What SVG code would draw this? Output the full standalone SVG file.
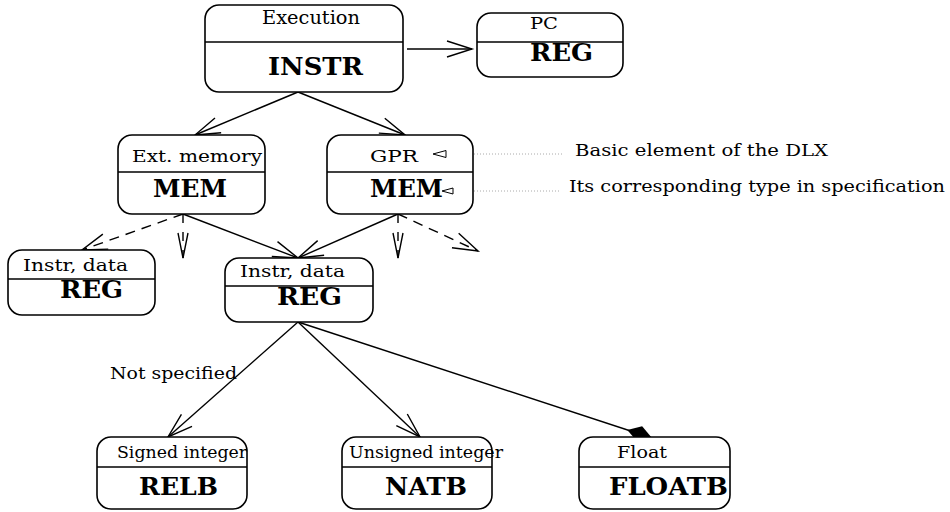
<svg xmlns="http://www.w3.org/2000/svg" width="950" height="512" viewBox="0 0 950 512" font-family="'DejaVu Serif', 'Liberation Serif', serif">
<defs>
<style>
.box{fill:#fff;stroke:#000;stroke-width:1.6}
.div{stroke:#000;stroke-width:1.3}
.t{font-family:'DejaVu Serif','Liberation Serif',serif;fill:#000;font-size:17px}
.s{font-size:16px}
.b{font-weight:bold;font-size:24px}
.edge{stroke:#000;stroke-width:1.4;fill:none}
.dash{stroke-dasharray:10 7}
.vdash{stroke-dasharray:9 9}
.dot{stroke:#aaa;stroke-width:1;stroke-dasharray:1 2;fill:none}
.tri{fill:#fff;stroke:#000;stroke-width:1}
</style>
<marker id="open" markerUnits="userSpaceOnUse" markerWidth="30" markerHeight="20" viewBox="0 0 30 20" refX="26" refY="10" orient="auto" overflow="visible"><path d="M1,2 L26,10 L1,18" fill="none" stroke="#000" stroke-width="1.4"/></marker>
<marker id="openN" markerUnits="userSpaceOnUse" markerWidth="30" markerHeight="20" viewBox="0 0 30 20" refX="26" refY="10" orient="auto" overflow="visible"><path d="M1,5 L26,10 L1,15" fill="none" stroke="#000" stroke-width="1.4"/></marker>
<marker id="diamond" markerUnits="userSpaceOnUse" markerWidth="30" markerHeight="20" viewBox="0 0 30 20" refX="28" refY="10" orient="auto" overflow="visible"><path d="M2,10 L15,2 L28,10 L15,18 Z" fill="#000"/></marker>
</defs>
<g id="connectors">
<line class="edge" x1="407" y1="49" x2="472" y2="49" marker-end="url(#open)"/>
<line class="edge" x1="298" y1="92" x2="195" y2="135" marker-end="url(#open)"/>
<line class="edge" x1="298" y1="92" x2="405" y2="135" marker-end="url(#open)"/>
<line class="edge dash" x1="183" y1="214" x2="82" y2="250" marker-end="url(#open)"/>
<line class="edge vdash" x1="183" y1="214" x2="183" y2="258" marker-end="url(#openN)"/>
<line class="edge" x1="183" y1="214" x2="298" y2="258" marker-end="url(#open)"/>
<line class="edge" x1="398" y1="214" x2="298" y2="258" marker-end="url(#open)"/>
<line class="edge vdash" x1="398" y1="214" x2="398" y2="258" marker-end="url(#openN)"/>
<line class="edge dash" x1="398" y1="214" x2="478" y2="251" marker-end="url(#open)"/>
<line class="edge" x1="298" y1="322" x2="168" y2="437" marker-end="url(#open)"/>
<line class="edge" x1="298" y1="322" x2="420" y2="437" marker-end="url(#open)"/>
<line class="edge" x1="298" y1="322" x2="652" y2="438" marker-end="url(#diamond)"/>
<line class="dot" x1="447" y1="154" x2="563" y2="154"/>
<line class="dot" x1="453" y1="191" x2="560" y2="191"/>
</g>
<g id="n-instr">
<rect class="box" x="205" y="5" width="198" height="87" rx="14"/>
<line class="div" x1="205" y1="42" x2="403" y2="42"/>
<text class="t" x="262" y="24" style="font-size:18px" textLength="98" lengthAdjust="spacingAndGlyphs">Execution</text>
<text class="t b" x="268" y="75" textLength="95" lengthAdjust="spacingAndGlyphs">INSTR</text>
</g>
<g id="n-pc">
<rect class="box" x="477" y="13" width="146" height="64" rx="14"/>
<line class="div" x1="477" y1="42" x2="623" y2="42"/>
<text class="t" x="530" y="29" textLength="28" lengthAdjust="spacingAndGlyphs">PC</text>
<text class="t b" x="530" y="61" textLength="63" lengthAdjust="spacingAndGlyphs">REG</text>
</g>
<g id="n-extmem">
<rect class="box" x="118" y="135" width="147" height="79" rx="14"/>
<line class="div" x1="118" y1="172" x2="265" y2="172"/>
<text class="t" x="132" y="162" textLength="130" lengthAdjust="spacingAndGlyphs">Ext. memory</text>
<text class="t b" x="153" y="197" textLength="74" lengthAdjust="spacingAndGlyphs">MEM</text>
</g>
<g id="n-gpr">
<rect class="box" x="327" y="135" width="146" height="79" rx="14"/>
<line class="div" x1="327" y1="172" x2="473" y2="172"/>
<text class="t" x="370" y="162" textLength="48" lengthAdjust="spacingAndGlyphs">GPR</text>
<text class="t b" x="370" y="197" textLength="73" lengthAdjust="spacingAndGlyphs">MEM</text>
<path class="tri" d="M433,154 L446,150.5 L446,157.5 Z"/>
<path class="tri" d="M442,191 L453,188 L453,194 Z"/>
</g>
<g id="legend">
<text class="t" x="575" y="156" textLength="253" lengthAdjust="spacingAndGlyphs">Basic element of the DLX</text>
<text class="t" x="569" y="192" textLength="376" lengthAdjust="spacingAndGlyphs">Its corresponding type in specification</text>
</g>
<g id="n-reg-left">
<rect class="box" x="8" y="250" width="147" height="65" rx="14"/>
<line class="div" x1="8" y1="279" x2="155" y2="279"/>
<text class="t s" x="23" y="271" textLength="105" lengthAdjust="spacingAndGlyphs">Instr, data</text>
<text class="t b" x="60" y="298" textLength="63" lengthAdjust="spacingAndGlyphs">REG</text>
</g>
<g id="n-reg-center">
<rect class="box" x="225" y="258" width="148" height="64" rx="14"/>
<line class="div" x1="225" y1="286" x2="373" y2="286"/>
<text class="t s" x="240" y="277" textLength="105" lengthAdjust="spacingAndGlyphs">Instr, data</text>
<text class="t b" x="277" y="305" textLength="65" lengthAdjust="spacingAndGlyphs">REG</text>
</g>
<g id="label-notspec">
<text class="t" x="110" y="379" textLength="127" lengthAdjust="spacingAndGlyphs">Not specified</text>
</g>
<g id="n-relb">
<rect class="box" x="97" y="437" width="150" height="72" rx="14"/>
<line class="div" x1="97" y1="467" x2="247" y2="467"/>
<text class="t s" x="117" y="458" textLength="130" lengthAdjust="spacingAndGlyphs">Signed integer</text>
<text class="t b" x="139" y="495" textLength="79" lengthAdjust="spacingAndGlyphs">RELB</text>
</g>
<g id="n-natb">
<rect class="box" x="342" y="437" width="150" height="72" rx="14"/>
<line class="div" x1="342" y1="467" x2="492" y2="467"/>
<text class="t s" x="349" y="458" textLength="154" lengthAdjust="spacingAndGlyphs">Unsigned integer</text>
<text class="t b" x="385" y="495" textLength="82" lengthAdjust="spacingAndGlyphs">NATB</text>
</g>
<g id="n-floatb">
<rect class="box" x="579" y="437" width="151" height="72" rx="14"/>
<line class="div" x1="579" y1="467" x2="730" y2="467"/>
<text class="t s" x="617" y="458" textLength="50" lengthAdjust="spacingAndGlyphs">Float</text>
<text class="t b" x="609" y="495" textLength="119" lengthAdjust="spacingAndGlyphs">FLOATB</text>
</g>
</svg>
